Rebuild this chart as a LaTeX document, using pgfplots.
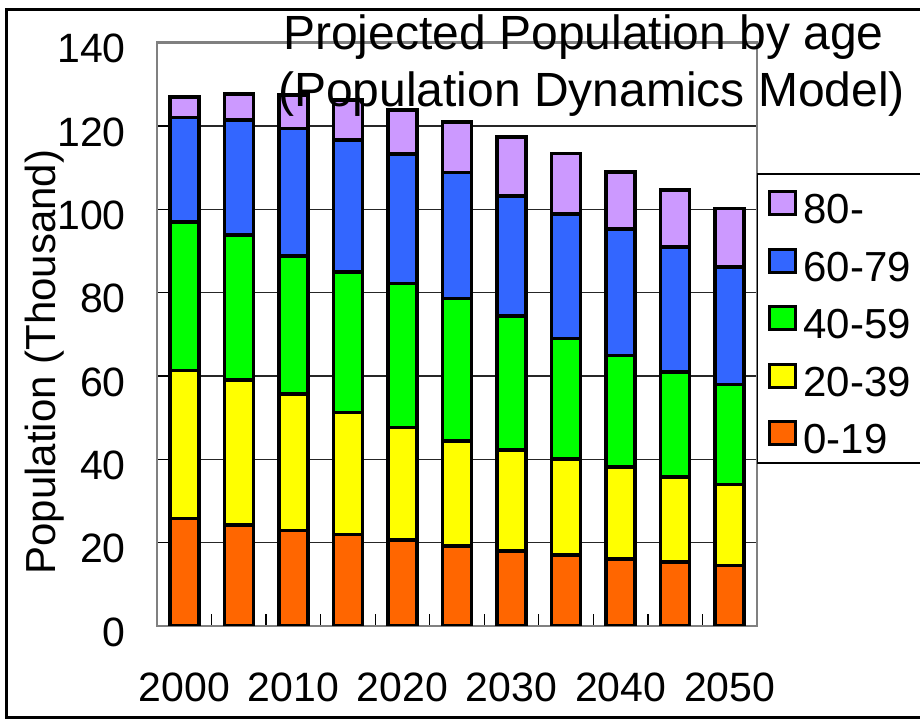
\documentclass[border=0pt]{standalone}
\usepackage{fontspec}
\setmainfont{Liberation Sans}
\usepackage{pgfplots}
\pgfplotsset{compat=1.18}
\usepackage{pgfplotstable}

\definecolor{c80}{HTML}{CC99FF}
\definecolor{c60}{HTML}{3366FF}
\definecolor{c40}{HTML}{00FF00}
\definecolor{c20}{HTML}{FFFF00}
\definecolor{c0}{HTML}{FF6600}
\definecolor{axgray}{HTML}{808080}

% Projected population (thousand) by age group, every 5 years
\pgfplotstableread{
idx year a0   a20  a40  a60  a80
0   2000 25.8 35.5 35.7 25.0 5.0
1   2005 24.2 34.8 34.8 27.7 6.2
2   2010 22.9 32.8 33.1 30.6 8.0
3   2015 22.0 29.2 33.8 31.6 9.6
4   2020 20.6 27.0 34.6 31.1 10.5
5   2025 19.2 25.2 34.2 30.2 12.2
6   2030 18.0 24.2 32.2 28.8 14.1
7   2035 17.0 23.1 28.9 29.9 14.5
8   2040 16.1 22.1 26.7 30.4 13.7
9   2045 15.3 20.5 25.1 30.1 13.6
10  2050 14.5 19.5 24.0 28.2 14.0
}\poptable

\newcommand\ticksize{\fontsize{41bp}{49bp}\selectfont}
\newcommand\legsize{\fontsize{42bp}{50bp}\selectfont}

\begin{document}
\begin{tikzpicture}
% outer frame
\draw[line width=3bp] (6.5bp,1.5bp) rectangle (940bp,709bp);

\begin{axis}[
  at={(157bp,93bp)}, anchor=south west,
  scale only axis, width=600bp, height=583.3bp,
  ybar stacked, bar width=29bp,
  xmin=-0.5, xmax=10.5, ymin=0, ymax=140,
  xtick={0,2,...,10},
  xticklabels={2000,2010,2020,2030,2040,2050},
  minor xtick={-0.5,0.5,...,10.5},
  ytick={0,20,...,140},
  xtick pos=left, ytick pos=left,
  tick align=inside,
  major x tick style={draw=none},
  major tick length=13bp, minor tick length=12bp,
  minor x tick style={black, line width=1.2bp},
  major y tick style={black, line width=1.2bp},
  ymajorgrids,
  grid style={black!85, line width=1.2bp},
  axis line style={axgray, line width=2.5bp},
  /pgf/number format/assume math mode=true,
  tick label style={font=\ticksize},
  xticklabel style={anchor=base, inner sep=0pt, yshift=-75.7bp},
  yticklabel style={anchor=east, inner sep=0pt, xshift=-31bp, yshift=-6bp},
  reverse legend,
  legend image code/.code={\draw[#1, line width=3bp] (0bp,9bp) rectangle (26bp,32bp);},
  legend style={at={(axis description cs:1,0.776)}, anchor=north west,
    draw=black, line width=1.2bp, fill=white,
    inner xsep=10bp, inner ysep=9bp, row sep=16.5bp, column sep=7bp,
    font=\legsize,
    nodes={inner sep=0pt, text height=41bp, text depth=0bp,
           text width=125bp, anchor=base west}},
]
\addplot[fill=c0,  draw=black, line width=3.6bp] table[x=idx, y=a0]  {\poptable};
\addplot[fill=c20, draw=black, line width=3.6bp] table[x=idx, y=a20] {\poptable};
\addplot[fill=c40, draw=black, line width=3.6bp] table[x=idx, y=a40] {\poptable};
\addplot[fill=c60, draw=black, line width=3.6bp] table[x=idx, y=a60] {\poptable};
\addplot[fill=c80, draw=black, line width=3.6bp] table[x=idx, y=a80] {\poptable};
\legend{0-19,20-39,40-59,60-79,80-}
\end{axis}

% titles and axis label
\node[anchor=base, inner sep=0pt, font=\fontsize{48bp}{56bp}\selectfont] at (583.5bp,669bp) {Projected Population by age};
\node[anchor=base, inner sep=0pt, font=\fontsize{48bp}{56bp}\selectfont] at (591.5bp,612.3bp) {(Population Dynamics Model)};
\node[anchor=base, rotate=90, inner sep=0pt, font=\fontsize{42bp}{50bp}\selectfont] at (55bp,356.8bp) {Population (Thousand)};

\pgfresetboundingbox
\path[use as bounding box] (0bp,0bp) rectangle (920bp,719bp);
\end{tikzpicture}
\end{document}
